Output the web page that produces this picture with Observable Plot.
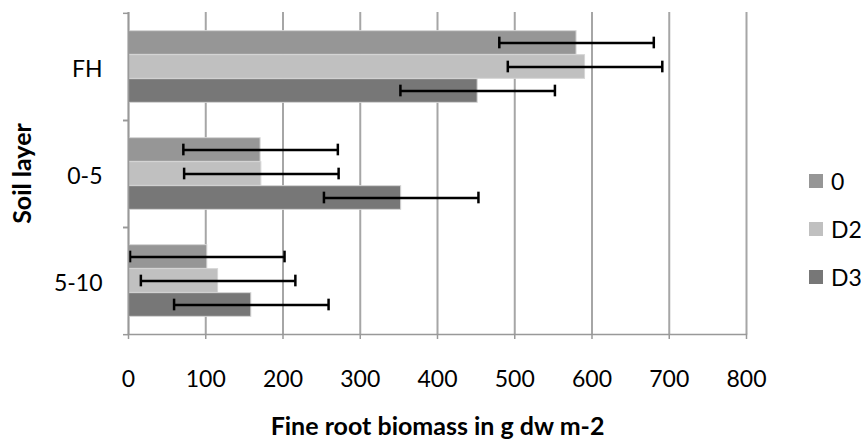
<!DOCTYPE html>
<html>
<head>
<meta charset="utf-8">
<script src="https://cdn.jsdelivr.net/npm/d3@7"></script>
<script src="https://cdn.jsdelivr.net/npm/@observablehq/plot@0.6"></script>
<style>
  html, body { margin: 0; padding: 0; background: white; }
  #wrap { position: relative; width: 861px; height: 444px; }
  .legend { position: absolute; left: 809px; font-family: Lato, "Open Sans", sans-serif; font-size: 23px; display: flex; align-items: center; color: black; }
  .legend span.sw { display: inline-block; width: 14px; height: 14px; margin-right: 8px; }
</style>
</head>
<body>
<div id="wrap"></div>
<script>
const categories = ["FH", "0-5", "5-10"];
const series = ["0", "D2", "D3"];
const values0 = [580, 171, 102];
const valuesD2 = [591, 172, 116];
const valuesD3 = [452, 353, 159];
const errors0 = [100, 100, 100];
const errorsD2 = [100, 100, 100];
const errorsD3 = [100, 100, 100];
const xTicks = [0, 100, 200, 300, 400, 500, 600, 700, 800];
const colors = ["#969696", "#c0c0c0", "#777777"];

const valueSets = [values0, valuesD2, valuesD3];
const errorSets = [errors0, errorsD2, errorsD3];
const rows = [];
series.forEach((s, i) => categories.forEach((c, j) => rows.push({category: c, series: s, value: valueSets[i][j], error: errorSets[i][j]})));

const W = 861, H = 444, mt = 12, mb = 110, ml = 128, mr = 115;
const band = (H - mt - mb) / categories.length;
const h = 24;
const outer = (band - 3 * h) / 2;

const marks = [
  Plot.gridX(xTicks, {stroke: "#a6a6a6", strokeOpacity: 1, strokeWidth: 2})
];
series.forEach((s, i) => {
  const data = rows.filter(d => d.series === s);
  marks.push(Plot.barX(data, {x: "value", y: "category", fill: colors[i], stroke: "#d6d6d6", strokeWidth: 1,
    insetTop: outer + i * h, insetBottom: band - outer - (i + 1) * h}));
});
series.forEach((s, i) => {
  const data = rows.filter(d => d.series === s);
  const off = (i - 1) * h;
  marks.push(Plot.ruleY(data, {y: "category", x1: d => d.value - d.error, x2: d => d.value + d.error, dy: off, stroke: "black", strokeWidth: 2.5}));
  marks.push(Plot.tickX(data, {x: d => d.value - d.error, y: "category", dy: off, insetTop: band / 2 - 6, insetBottom: band / 2 - 6, stroke: "black", strokeWidth: 2.5}));
  marks.push(Plot.tickX(data, {x: d => d.value + d.error, y: "category", dy: off, insetTop: band / 2 - 6, insetBottom: band / 2 - 6, stroke: "black", strokeWidth: 2.5}));
});
marks.push(
  Plot.ruleX([0], {stroke: "#999", strokeWidth: 1.5}),
  Plot.frame({anchor: "bottom", stroke: "#999", strokeWidth: 1.5}),
  Plot.axisX({ticks: xTicks, tickSize: 5, tickPadding: 31, stroke: "#999", strokeWidth: 1.5, label: null, fill: "black", fontSize: 23}),
  Plot.axisY({tickSize: 0, tickPadding: 26, label: null, fill: "black", fontSize: 23, dy: 3}),
  Plot.axisY({tickSize: 5, dy: -band / 2, tickFormat: () => "", label: null, stroke: "#999", strokeWidth: 1.5}),
  Plot.axisY({tickSize: 5, dy: band / 2, tickFormat: () => "", label: null, stroke: "#999", strokeWidth: 1.5}),
  Plot.text(["Soil layer"], {frameAnchor: "left", rotate: -90, dx: -106, textAnchor: "middle", lineAnchor: "middle", fontWeight: "bold", fontSize: 25, fill: "black"}),
  Plot.text(["Fine root biomass in g dw m-2"], {frameAnchor: "bottom", dy: 92, textAnchor: "middle", lineAnchor: "middle", fontWeight: "bold", fontSize: 25, fill: "black"})
);

const chart = Plot.plot({
  width: W, height: H,
  marginLeft: ml, marginRight: mr, marginTop: mt, marginBottom: mb,
  style: {fontFamily: "Lato, 'Open Sans', sans-serif", fontSize: "23px", background: "white", color: "black", overflow: "visible"},
  x: {domain: [0, 800], ticks: xTicks},
  y: {domain: categories, padding: 0},
  marks
});
const wrap = document.getElementById("wrap");
wrap.appendChild(chart);

const legendY = [181, 229, 277];
series.forEach((s, i) => {
  const div = document.createElement("div");
  div.className = "legend";
  div.style.top = (legendY[i] - 14) + "px";
  div.style.height = "28px";
  div.innerHTML = `<span class="sw" style="background:${colors[i]}"></span><span>${s}</span>`;
  wrap.appendChild(div);
});
</script>
</body>
</html>
